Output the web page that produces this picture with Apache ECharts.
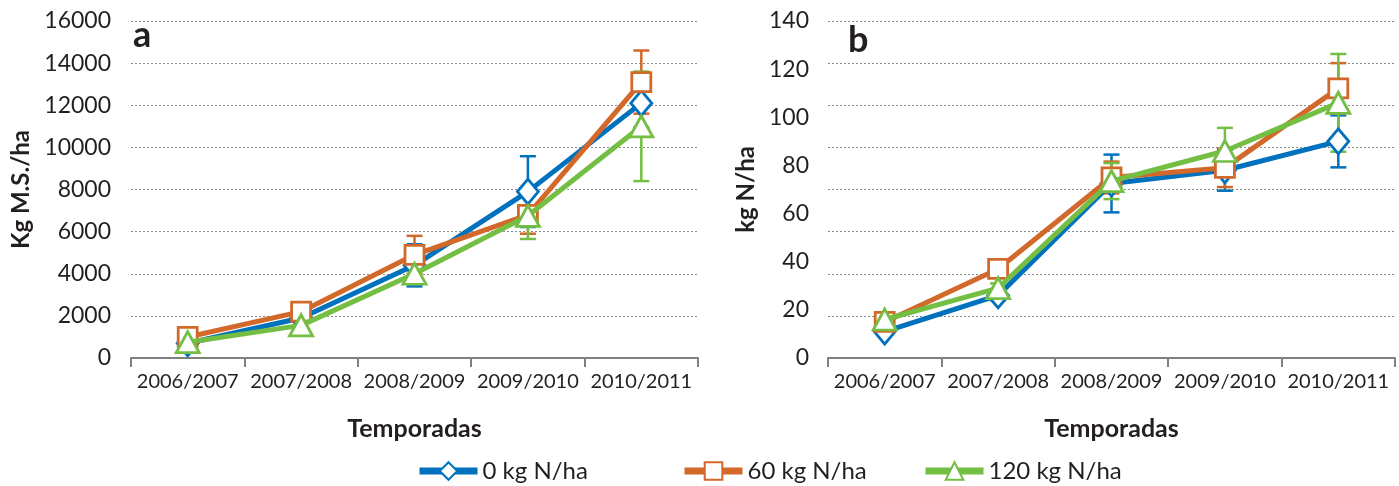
<!DOCTYPE html>
<html><head><meta charset="utf-8">
<script src="https://cdn.jsdelivr.net/npm/echarts@6/dist/echarts.min.js"></script>
<style>html,body{margin:0;padding:0;background:#fff}#c{width:1399px;height:486px}</style>
</head><body><div id="c"></div>
<script>
const categories = ['2006/2007','2007/2008','2008/2009','2009/2010','2010/2011'];
const seriesNames = ['0 kg N/ha','60 kg N/ha','120 kg N/ha'];
// Panel a: Kg M.S./ha
const msN0 = [700, 1900, 4400, 7900, 12100];
const msN0Err = [100, 150, 1000, 1680, 1150];
const msN60 = [1000, 2200, 4900, 6800, 13100];
const msN60Err = [100, 150, 900, 900, 1500];
const msN120 = [750, 1550, 4000, 6750, 11000];
const msN120Err = [100, 150, 300, 1100, 2600];
// Panel b: kg N/ha
const nN0 = [11, 26, 72.5, 78, 90];
const nN0Err = [1, 2, 12, 8.5, 10.8];
const nN60 = [15, 37, 75, 79, 112];
const nN60Err = [1, 2, 6.6, 8, 10.5];
const nN120 = [16, 29, 73.5, 86, 106];
const nN120Err = [1, 2, 7.5, 9.6, 20.3];
const yTicksA = {min: 0, max: 16000, interval: 2000};
const yTicksB = {min: 0, max: 140, interval: 20};

const colors = ['#0071BD', '#D2692B', '#74BE44'];
const symbols = ['diamond', 'rect', 'triangle'];
const symbolSizes = [[21, 25], [19, 19], [23, 21]];
const TXT = '#231f20';
const FONT = 'Lato';

function lineSeries(i, data, xi, yi) {
  return {
    type: 'line', name: seriesNames[i], xAxisIndex: xi, yAxisIndex: yi,
    data: data, symbol: symbols[i], symbolSize: symbolSizes[i], showAllSymbol: true,
    lineStyle: {color: colors[i], width: 5},
    itemStyle: {color: '#fff', borderColor: colors[i], borderWidth: 2.8},
    z: 3 + i, animation: false
  };
}
function errSeries(i, vals, errs, xi, yi) {
  const d = vals.map((v, k) => [k, v - errs[k], v + errs[k]]);
  return {
    type: 'custom', name: 'err' + i, xAxisIndex: xi, yAxisIndex: yi, data: d, z: 2, animation: false,
    renderItem: function (params, api) {
      const lo = api.coord([api.value(0), api.value(1)]);
      const hi = api.coord([api.value(0), api.value(2)]);
      const w = 8;
      const st = {stroke: colors[i], lineWidth: 2.5};
      return {type: 'group', children: [
        {type: 'line', shape: {x1: lo[0], y1: lo[1], x2: hi[0], y2: hi[1]}, style: st},
        {type: 'line', shape: {x1: lo[0] - w, y1: lo[1], x2: lo[0] + w, y2: lo[1]}, style: st},
        {type: 'line', shape: {x1: hi[0] - w, y1: hi[1], x2: hi[0] + w, y2: hi[1]}, style: st}
      ]};
    }
  };
}
const gridLine = {show: true, lineStyle: {color: '#8a8a8a', type: [2, 2], width: 1}};
function xAxis(gi) {
  return {
    type: 'category', gridIndex: gi, data: categories, boundaryGap: true,
    axisLine: {lineStyle: {color: '#808080', width: 2}},
    axisTick: {show: true, length: 9, lineStyle: {color: '#808080', width: 2}},
    axisLabel: {color: TXT, fontSize: 20, fontFamily: FONT, margin: 14, interval: 0},
    name: 'Temporadas', nameLocation: 'middle', nameGap: 58,
    nameTextStyle: {color: TXT, fontSize: 25, fontWeight: 'bold', fontFamily: FONT}
  };
}
const plain = v => String(v);
const opt = {
  animation: false,
  textStyle: {fontFamily: FONT},
  grid: [
    {left: 131, width: 567, top: 21, height: 337},
    {left: 828, width: 567, top: 21, height: 337}
  ],
  xAxis: [xAxis(0), xAxis(1)],
  yAxis: [
    Object.assign({type: 'value', gridIndex: 0,
      axisLine: {show: false}, axisTick: {show: false}, splitLine: gridLine,
      axisLabel: {color: TXT, fontSize: 23, fontFamily: FONT, margin: 20, formatter: plain},
      name: 'Kg M.S./ha', nameLocation: 'middle', nameGap: 98,
      nameTextStyle: {color: TXT, fontSize: 24, fontWeight: 'bold', fontFamily: FONT}}, yTicksA),
    Object.assign({type: 'value', gridIndex: 1,
      axisLine: {show: false}, axisTick: {show: false}, splitLine: {show: false},
      axisLabel: {color: TXT, fontSize: 23, fontFamily: FONT, margin: 19, formatter: plain},
      name: 'kg N/ha', nameLocation: 'middle', nameGap: 70,
      nameTextStyle: {color: TXT, fontSize: 24, fontWeight: 'bold', fontFamily: FONT}}, yTicksB),
    {type: 'value', gridIndex: 1, min: 0, max: 8, interval: 1,
      axisLine: {show: false}, axisTick: {show: false}, axisLabel: {show: false}, splitLine: gridLine}
  ],
  legend: seriesNames.map((n, i) => ({
    data: [n], left: [411, 676, 917][i], top: 454, itemWidth: 58, itemHeight: 22, itemGap: 6,
    lineStyle: {width: 7},
    textStyle: {color: TXT, fontSize: 24, fontFamily: FONT}
  })),
  graphic: [
    {type: 'text', left: 133, top: 17, style: {text: 'a', font: 'bold 36px Lato', fill: TXT}},
    {type: 'text', left: 848, top: 22, style: {text: 'b', font: 'bold 36px Lato', fill: TXT}}
  ],
  series: [
    errSeries(0, msN0, msN0Err, 0, 0), errSeries(1, msN60, msN60Err, 0, 0), errSeries(2, msN120, msN120Err, 0, 0),
    lineSeries(0, msN0, 0, 0), lineSeries(1, msN60, 0, 0), lineSeries(2, msN120, 0, 0),
    errSeries(0, nN0, nN0Err, 1, 1), errSeries(1, nN60, nN60Err, 1, 1), errSeries(2, nN120, nN120Err, 1, 1),
    lineSeries(0, nN0, 1, 1), lineSeries(1, nN60, 1, 1), lineSeries(2, nN120, 1, 1)
  ]
};
const chart = echarts.init(document.getElementById('c'), null, {renderer: 'canvas'});
chart.setOption(opt);
</script></body></html>
